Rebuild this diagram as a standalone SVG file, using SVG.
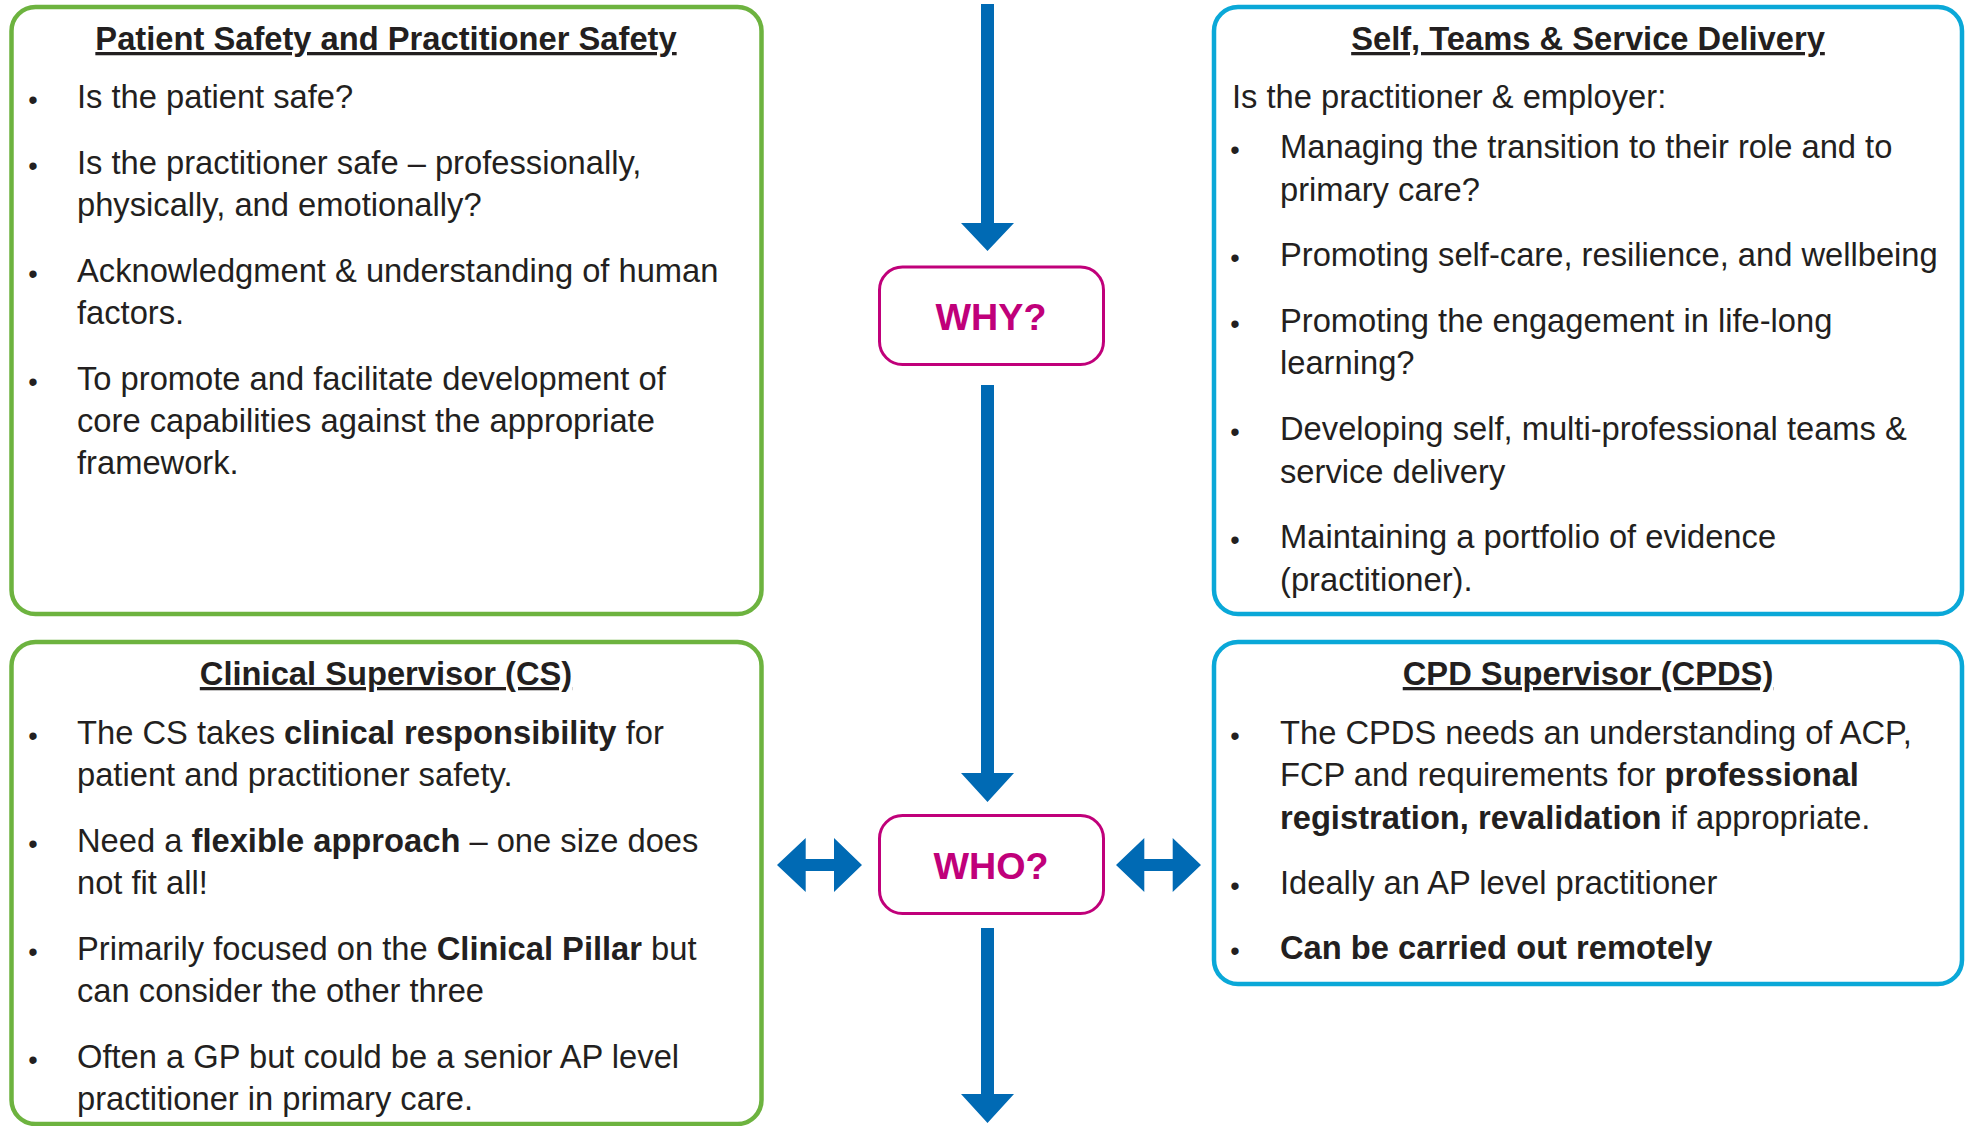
<svg xmlns="http://www.w3.org/2000/svg" width="1968" height="1126" viewBox="0 0 1968 1126">
<style>
  text { font-family: "Liberation Sans", Arial, sans-serif; fill: #231f20; font-size: 32.7px; }
  .title { font-weight: bold; text-decoration: underline; text-anchor: middle; }
  .b { font-weight: bold; }
  .bul { font-size: 27px; text-anchor: middle; }
  .green { fill: #ffffff; stroke: #6db33f; stroke-width: 4.5; }
  .blue { fill: #ffffff; stroke: #0aa8d8; stroke-width: 4.5; }
  .q { fill: #ffffff; stroke: #c0007a; stroke-width: 3; }
  .qt { font-weight: bold; font-size: 37.7px; fill: #c0007a; text-anchor: middle; }
  .arrow { fill: #006ab4; }
</style>
<rect width="1968" height="1126" fill="#ffffff"/>

<g id="connectors">
  <path class="arrow" d="M981,4 H994 V223 H1014 L987.5,251 L961,223 H981 Z"/>
  <path class="arrow" d="M981,385 H994 V773 H1014 L987.5,802 L961,773 H981 Z"/>
  <path class="arrow" d="M981,928 H994 V1094 H1014 L987.5,1123 L961,1094 H981 Z"/>
  <path class="arrow" d="M777,865 L805.7,838 V859 H834 V838 L862,865 L834,892 V871 H805.7 V892 Z"/>
  <path class="arrow" d="M1116,865 L1144.3,838 V859 H1172.7 V838 L1201,865 L1172.7,892 V871 H1144.3 V892 Z"/>
</g>

<g id="patient-safety">
  <rect class="green" x="11.5" y="7" width="750" height="607" rx="24"/>
  <text class="title" x="386" y="50">Patient Safety and Practitioner Safety</text>
  <text class="bul" x="33" y="109">•</text>
  <text x="77" y="108">Is the patient safe?</text>
  <text class="bul" x="33" y="174.5">•</text>
  <text x="77" y="173.5">Is the practitioner safe – professionally,</text>
  <text x="77" y="215.5">physically, and emotionally?</text>
  <text class="bul" x="33" y="283">•</text>
  <text x="77" y="282">Acknowledgment &amp; understanding of human</text>
  <text x="77" y="324">factors.</text>
  <text class="bul" x="33" y="391">•</text>
  <text x="77" y="390">To promote and facilitate development of</text>
  <text x="77" y="432">core capabilities against the appropriate</text>
  <text x="77" y="474">framework.</text>
</g>

<g id="self-teams">
  <rect class="blue" x="1214" y="7" width="748" height="607" rx="24"/>
  <text class="title" x="1588" y="50">Self, Teams &amp; Service Delivery</text>
  <text x="1232" y="107.5">Is the practitioner &amp; employer:</text>
  <text class="bul" x="1235" y="158.8">•</text>
  <text x="1280" y="157.8">Managing the transition to their role and to</text>
  <text x="1280" y="200.5">primary care?</text>
  <text class="bul" x="1235" y="266.8">•</text>
  <text x="1280" y="265.8">Promoting self-care, resilience, and wellbeing</text>
  <text class="bul" x="1235" y="333.3">•</text>
  <text x="1280" y="332.3">Promoting the engagement in life-long</text>
  <text x="1280" y="374">learning?</text>
  <text class="bul" x="1235" y="441.2">•</text>
  <text x="1280" y="440.2">Developing self, multi-professional teams &amp;</text>
  <text x="1280" y="483">service delivery</text>
  <text class="bul" x="1235" y="549.1">•</text>
  <text x="1280" y="548.1">Maintaining a portfolio of evidence</text>
  <text x="1280" y="590.8">(practitioner).</text>
</g>

<g id="clinical-supervisor">
  <rect class="green" x="11.5" y="642" width="750" height="482" rx="24"/>
  <text class="title" x="386" y="685">Clinical Supervisor (CS)</text>
  <text class="bul" x="33" y="744.5">•</text>
  <text x="77" y="743.5">The CS takes <tspan class="b">clinical responsibility</tspan> for</text>
  <text x="77" y="785.5">patient and practitioner safety.</text>
  <text class="bul" x="33" y="852.5">•</text>
  <text x="77" y="851.5">Need a <tspan class="b">flexible approach</tspan> – one size does</text>
  <text x="77" y="893.5">not fit all!</text>
  <text class="bul" x="33" y="960.5">•</text>
  <text x="77" y="959.5">Primarily focused on the <tspan class="b">Clinical Pillar</tspan> but</text>
  <text x="77" y="1002">can consider the other three</text>
  <text class="bul" x="33" y="1068.5">•</text>
  <text x="77" y="1067.5">Often a GP but could be a senior AP level</text>
  <text x="77" y="1110">practitioner in primary care.</text>
</g>

<g id="cpd-supervisor">
  <rect class="blue" x="1214" y="642" width="748" height="342" rx="24"/>
  <text class="title" x="1588" y="685">CPD Supervisor (CPDS)</text>
  <text class="bul" x="1235" y="744.5">•</text>
  <text x="1280" y="743.5">The CPDS needs an understanding of ACP,</text>
  <text x="1280" y="786">FCP and requirements for <tspan class="b">professional</tspan></text>
  <text x="1280" y="828.5"><tspan class="b">registration, revalidation</tspan> if appropriate.</text>
  <text class="bul" x="1235" y="895">•</text>
  <text x="1280" y="894">Ideally an AP level practitioner</text>
  <text class="bul" x="1235" y="959.5">•</text>
  <text x="1280" y="958.5" class="b">Can be carried out remotely</text>
</g>

<g id="why">
  <rect class="q" x="879.5" y="267" width="224" height="97.5" rx="23"/>
  <text class="qt" x="991" y="330">WHY?</text>
</g>

<g id="who">
  <rect class="q" x="879.5" y="815.5" width="224" height="98" rx="23"/>
  <text class="qt" x="991" y="879">WHO?</text>
</g>
</svg>
